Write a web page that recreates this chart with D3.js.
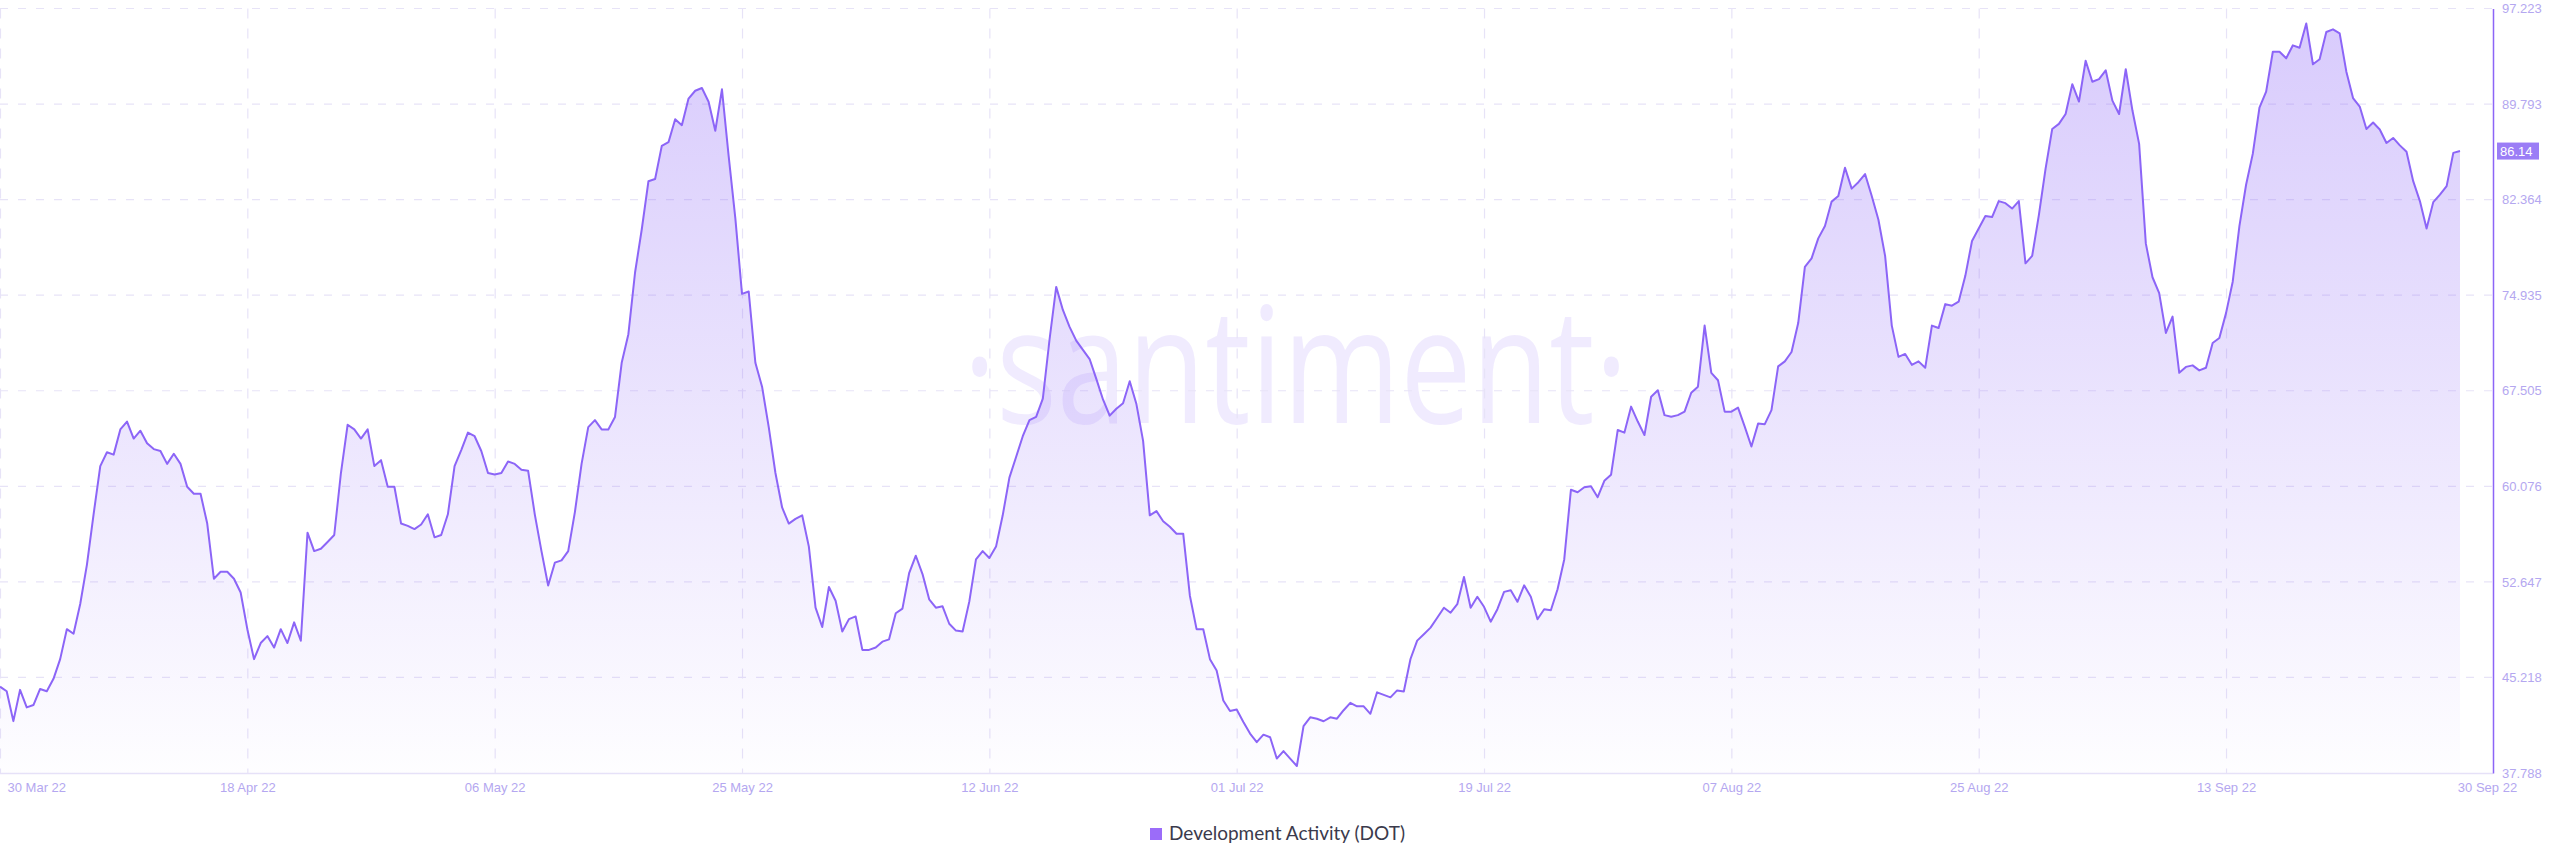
<!DOCTYPE html>
<html>
<head>
<meta charset="utf-8">
<script src="https://cdn.jsdelivr.net/npm/d3@7"></script>
<style>
  html, body { margin: 0; padding: 0; background: #ffffff; }
  svg { display: block; }
</style>
</head>
<body>
<svg id="chart" width="2560" height="867"></svg>
<script>
// ---------------- DATA ----------------
const seriesName = "Development Activity (DOT)";
const startDate = "2022-03-30T12:00:00Z";   // first sample, 12-hour step
const stepHours = 12;
const devActivity = [
  44.50,44.14,41.82,44.25,42.89,43.07,44.32,44.14,45.11,46.64,
  48.97,48.61,50.93,53.97,57.90,61.65,62.72,62.54,64.50,65.11,
  63.79,64.40,63.43,62.97,62.82,61.82,62.61,61.82,60.04,59.50,
  59.50,57.18,52.89,53.43,53.43,52.89,51.82,48.97,46.64,47.89,
  48.43,47.54,48.97,47.89,49.50,48.07,56.47,55.04,55.22,55.75,
  56.29,61.11,64.86,64.50,63.79,64.50,61.65,62.11,60.04,60.04,
  57.18,57.00,56.75,57.11,57.90,56.11,56.29,57.90,61.65,62.89,
  64.25,63.97,62.82,61.11,61.00,61.11,62.00,61.82,61.36,61.29,
  57.90,55.04,52.36,54.14,54.32,55.04,58.07,61.82,64.68,65.22,
  64.50,64.50,65.47,69.68,71.90,76.70,80.04,83.79,83.97,86.54,
  86.83,88.61,88.15,90.22,90.83,91.04,89.97,87.72,90.94,85.76,
  80.93,75.04,75.22,69.68,67.82,64.68,61.11,58.43,57.18,57.54,
  57.82,55.39,50.64,49.14,52.25,51.18,48.79,49.75,49.96,47.36,
  47.36,47.54,48.00,48.18,50.21,50.57,53.32,54.68,53.25,51.29,
  50.64,50.75,49.39,48.86,48.79,51.11,54.39,55.04,54.50,55.39,
  57.82,60.75,62.36,63.97,65.22,65.47,66.89,71.47,75.58,73.79,
  72.47,71.40,70.68,69.97,68.43,66.83,65.57,66.11,66.54,68.25,
  66.47,63.61,57.82,58.15,57.36,56.93,56.39,56.39,51.57,48.97,
  48.97,46.64,45.75,43.43,42.61,42.72,41.76,40.85,40.19,40.77,
  40.57,38.91,39.49,38.91,38.33,41.43,42.12,42.01,41.81,42.12,
  42.01,42.67,43.24,42.97,42.97,42.39,44.06,43.86,43.67,44.21,
  44.13,46.65,48.08,48.58,49.09,49.86,50.64,50.25,50.91,53.03,
  50.64,51.49,50.71,49.55,50.52,51.87,51.99,51.10,52.38,51.49,
  49.74,50.52,50.44,52.07,54.39,59.81,59.61,60.00,60.08,59.23,
  60.50,60.97,64.45,64.25,66.27,65.11,64.06,67.04,67.54,65.61,
  65.49,65.61,65.88,67.35,67.82,72.57,68.90,68.32,65.88,65.88,
  66.19,64.72,63.17,64.95,64.91,66.00,69.40,69.79,70.52,72.77,
  77.14,77.80,79.35,80.31,82.21,82.64,84.84,83.22,83.72,84.35,
  82.64,80.80,77.99,72.57,70.14,70.37,69.52,69.79,69.29,72.57,
  72.38,74.24,74.12,74.43,76.44,79.15,80.12,81.09,81.01,82.25,
  82.09,81.67,82.25,77.41,77.99,81.16,84.76,87.86,88.25,89.02,
  91.34,89.99,93.16,91.53,91.73,92.42,90.06,89.02,92.50,89.29,
  86.70,78.96,76.33,75.09,72.00,73.27,68.90,69.36,69.48,69.09,
  69.29,71.22,71.61,73.54,75.98,80.31,83.52,85.92,89.52,90.76,
  93.86,93.86,93.35,94.36,94.17,96.06,92.89,93.28,95.40,95.60,
  95.29,92.31,90.26,89.60,87.86,88.36,87.82,86.77,87.16,86.58,
  86.08,83.80,82.25,80.12,82.17,82.75,83.41,86.00,86.14
];
const yTickValues = [37.788, 45.218, 52.647, 60.076, 67.505, 74.935, 82.364, 89.793, 97.223];
const xTickDates = [
  "2022-03-30T12:00:00Z","2022-04-18T00:00:00Z","2022-05-06T12:00:00Z","2022-05-25T00:00:00Z",
  "2022-06-12T12:00:00Z","2022-07-01T00:00:00Z","2022-07-19T12:00:00Z","2022-08-07T00:00:00Z",
  "2022-08-25T12:00:00Z","2022-09-13T00:00:00Z","2022-09-30T12:00:00Z"
];
const xTickLabels = ["30 Mar 22","18 Apr 22","06 May 22","25 May 22","12 Jun 22","01 Jul 22",
                     "19 Jul 22","07 Aug 22","25 Aug 22","13 Sep 22","30 Sep 22"];
const watermarkText = "·santiment·";

// ---------------- BUILD ----------------
const t0 = new Date(startDate);
const data = devActivity.map((v, i) => ({ date: d3.utcHour.offset(t0, i * stepHours), value: v }));
const tickDates = xTickDates.map(s => new Date(s));

const svg = d3.select("#chart");
const plotLeft = 0, plotRight = 2493, plotTop = 8.5, plotBottom = 773;
const dataRight = 2460;

const x = d3.scaleUtc()
  .domain([data[0].date, data[data.length - 1].date])
  .range([plotLeft, dataRight]);
const y = d3.scaleLinear()
  .domain([yTickValues[0], yTickValues[yTickValues.length - 1]])
  .range([plotBottom, plotTop]);

const accent = "#8c65f7";
const gridColor = "#e7e3f7";
const tickColor = "#b4a7f0";

const defs = svg.append("defs");
const grad = defs.append("linearGradient")
  .attr("id", "areaGrad").attr("gradientUnits", "userSpaceOnUse")
  .attr("x1", 0).attr("x2", 0).attr("y1", plotTop).attr("y2", plotBottom);
grad.append("stop").attr("offset", "0%").attr("stop-color", accent).attr("stop-opacity", 0.34);
grad.append("stop").attr("offset", "45%").attr("stop-color", accent).attr("stop-opacity", 0.2);
grad.append("stop").attr("offset", "100%").attr("stop-color", accent).attr("stop-opacity", 0.01);

// watermark
svg.append("text")
  .attr("x", 963).attr("y", 423)
  .attr("textLength", 665).attr("lengthAdjust", "spacingAndGlyphs")
  .attr("font-family", "'Open Sans', sans-serif")
  .attr("font-size", 162)
  .attr("fill", accent).attr("fill-opacity", 0.13)
  .text(watermarkText);

// horizontal grid
svg.append("g").selectAll("line")
  .data(yTickValues.slice(1))
  .join("line")
  .attr("x1", plotLeft).attr("x2", plotRight)
  .attr("y1", d => y(d)).attr("y2", d => y(d))
  .attr("stroke", gridColor).attr("stroke-width", 1.2)
  .attr("stroke-dasharray", "8,10");

// vertical grid
svg.append("g").selectAll("line")
  .data(tickDates.slice(0, -1))
  .join("line")
  .attr("x1", d => x(d) + 0.5).attr("x2", d => x(d) + 0.5)
  .attr("y1", plotTop).attr("y2", plotBottom)
  .attr("stroke", gridColor).attr("stroke-width", 1.2)
  .attr("stroke-dasharray", "10,10");

// area + line
const area = d3.area().x(d => x(d.date)).y0(plotBottom).y1(d => y(d.value));
const line = d3.line().x(d => x(d.date)).y(d => y(d.value));
svg.append("path").datum(data).attr("d", area).attr("fill", "url(#areaGrad)");
svg.append("path").datum(data).attr("d", line)
  .attr("fill", "none").attr("stroke", accent).attr("stroke-width", 2)
  .attr("stroke-linejoin", "round");

// bottom axis line
svg.append("line")
  .attr("x1", plotLeft).attr("x2", plotRight)
  .attr("y1", plotBottom + 0.5).attr("y2", plotBottom + 0.5)
  .attr("stroke", "#e6e1f8").attr("stroke-width", 1.5);

// right axis (d3 axis, domain line styled, ticks hidden)
const yAxis = d3.axisRight(y).tickValues(yTickValues).tickFormat(d3.format(".3f")).tickSize(0).tickPadding(9);
const yg = svg.append("g").attr("transform", `translate(${plotRight},0)`).call(yAxis);
yg.select(".domain").attr("stroke", accent).attr("stroke-width", 1.5);
yg.selectAll("text")
  .attr("fill", tickColor)
  .attr("font-family", "'Liberation Sans', Arial, sans-serif")
  .attr("font-size", 13);

// bottom axis labels
const xAxis = d3.axisBottom(x).tickValues(tickDates).tickFormat((d, i) => xTickLabels[i]).tickSize(0).tickPadding(10);
const xg = svg.append("g").attr("transform", `translate(0,${plotBottom})`).call(xAxis);
xg.select(".domain").remove();
xg.selectAll("text")
  .attr("fill", tickColor)
  .attr("font-family", "'Liberation Sans', Arial, sans-serif")
  .attr("font-size", 13);
xg.selectAll(".tick").filter((d, i) => i === 0).select("text").attr("text-anchor", "start").attr("dx", 7);
xg.selectAll(".tick").filter((d, i) => i === tickDates.length - 1).select("text").attr("dx", 27);

// last value badge
const last = data[data.length - 1];
const badge = svg.append("g").attr("transform", `translate(${plotRight + 4},${y(last.value)})`);
badge.append("rect").attr("x", 0).attr("y", -8.5).attr("width", 42).attr("height", 17).attr("fill", "#9b7df6");
badge.append("text").attr("x", 3).attr("y", 4.5)
  .attr("fill", "#ffffff")
  .attr("font-family", "'Liberation Sans', Arial, sans-serif")
  .attr("font-size", 13)
  .text(d3.format(".2f")(last.value));

// legend
const lg = svg.append("g").attr("transform", "translate(1150,828)");
lg.append("rect").attr("width", 12).attr("height", 12).attr("fill", "#9b6cf9");
lg.append("text").attr("x", 19).attr("y", 12)
  .attr("fill", "#3b3a4c")
  .attr("font-family", "Lato, 'Open Sans', sans-serif")
  .attr("font-size", 19)
  .text(seriesName);
</script>
</body>
</html>
